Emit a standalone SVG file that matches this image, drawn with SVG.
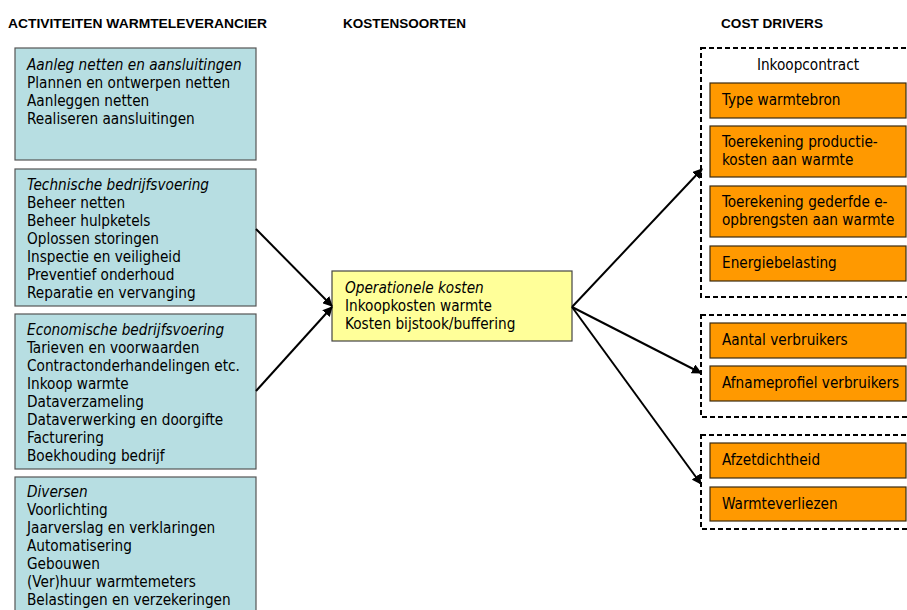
<svg xmlns="http://www.w3.org/2000/svg" width="907" height="610" viewBox="0 0 907 610">
<style>
.hdr{font-family:"Liberation Sans",Arial,sans-serif;font-weight:bold;font-size:13.5px;fill:#000}
.t{font-family:"DejaVu Sans Condensed","DejaVu Sans",sans-serif;font-size:15.2px;fill:#000}
.i{font-style:italic}
.act{fill:#B7DEE2;stroke:#555;stroke-width:1.2}
.ks{fill:#FFFF99;stroke:#444;stroke-width:1.2}
.cd{fill:#FF9900;stroke:#3a2a10;stroke-width:1.2}
.grp{fill:none;stroke:#000;stroke-width:2;stroke-dasharray:5,3}
.con{stroke:#000;stroke-width:2;fill:none;marker-end:url(#ah)}
</style>
<defs>
<marker id="ah" viewBox="0 0 10 10" refX="9" refY="5" markerWidth="5" markerHeight="5" orient="auto" markerUnits="strokeWidth">
<path d="M0,0 L10,5 L0,10 Z" fill="#000"/>
</marker>
</defs>
<rect width="907" height="610" fill="#fff"/>
<g id="headers">
<text class="hdr" x="8" y="28" textLength="259" lengthAdjust="spacingAndGlyphs">ACTIVITEITEN WARMTELEVERANCIER</text>
<text class="hdr" x="343" y="28" textLength="123" lengthAdjust="spacingAndGlyphs">KOSTENSOORTEN</text>
<text class="hdr" x="721" y="28" textLength="102" lengthAdjust="spacingAndGlyphs">COST DRIVERS</text>
</g>
<g id="act1">
<rect class="act" x="15" y="48" width="241" height="112"/>
<text class="t i" x="27" y="70">Aanleg netten en aansluitingen</text>
<text class="t" x="27" y="88">Plannen en ontwerpen netten</text>
<text class="t" x="27" y="106">Aanleggen netten</text>
<text class="t" x="27" y="124">Realiseren aansluitingen</text>
</g>
<g id="act2">
<rect class="act" x="15" y="169" width="241" height="137"/>
<text class="t i" x="27" y="190">Technische bedrijfsvoering</text>
<text class="t" x="27" y="208">Beheer netten</text>
<text class="t" x="27" y="226">Beheer hulpketels</text>
<text class="t" x="27" y="244">Oplossen storingen</text>
<text class="t" x="27" y="262">Inspectie en veiligheid</text>
<text class="t" x="27" y="280">Preventief onderhoud</text>
<text class="t" x="27" y="298">Reparatie en vervanging</text>
</g>
<g id="act3">
<rect class="act" x="15" y="314" width="241" height="155"/>
<text class="t i" x="27" y="335">Economische bedrijfsvoering</text>
<text class="t" x="27" y="353">Tarieven en voorwaarden</text>
<text class="t" x="27" y="371">Contractonderhandelingen etc.</text>
<text class="t" x="27" y="389">Inkoop warmte</text>
<text class="t" x="27" y="407">Dataverzameling</text>
<text class="t" x="27" y="425">Dataverwerking en doorgifte</text>
<text class="t" x="27" y="443">Facturering</text>
<text class="t" x="27" y="461">Boekhouding bedrijf</text>
</g>
<g id="act4">
<rect class="act" x="15" y="477" width="241" height="140"/>
<text class="t i" x="27" y="497">Diversen</text>
<text class="t" x="27" y="515">Voorlichting</text>
<text class="t" x="27" y="533">Jaarverslag en verklaringen</text>
<text class="t" x="27" y="551">Automatisering</text>
<text class="t" x="27" y="569">Gebouwen</text>
<text class="t" x="27" y="587">(Ver)huur warmtemeters</text>
<text class="t" x="27" y="605">Belastingen en verzekeringen</text>
</g>
<g id="kosten">
<rect class="ks" x="332" y="271" width="240" height="70"/>
<text class="t i" x="345" y="293">Operationele kosten</text>
<text class="t" x="345" y="311">Inkoopkosten warmte</text>
<text class="t" x="345" y="329">Kosten bijstook/buffering</text>
</g>
<g id="grp-inkoop">
<rect class="grp" x="701" y="48" width="220" height="249"/>
<text class="t" x="808" y="70" text-anchor="middle">Inkoopcontract</text>
</g>
<g id="cd1"><rect class="cd" x="710" y="83" width="196" height="35"/><text class="t" x="722" y="105">Type warmtebron</text></g>
<g id="cd2"><rect class="cd" x="710" y="126" width="196" height="51"/><text class="t" x="722" y="147">Toerekening productie-</text><text class="t" x="722" y="165">kosten aan warmte</text></g>
<g id="cd3"><rect class="cd" x="710" y="186" width="196" height="51"/><text class="t" x="722" y="207">Toerekening gederfde e-</text><text class="t" x="722" y="225">opbrengsten aan warmte</text></g>
<g id="cd4"><rect class="cd" x="710" y="246" width="196" height="35"/><text class="t" x="722" y="268">Energiebelasting</text></g>
<g id="grp-verbruik"><rect class="grp" x="701" y="315" width="220" height="102"/></g>
<g id="cd5"><rect class="cd" x="710" y="323" width="196" height="35"/><text class="t" x="722" y="345">Aantal verbruikers</text></g>
<g id="cd6"><rect class="cd" x="710" y="366" width="196" height="35"/><text class="t" x="722" y="388">Afnameprofiel verbruikers</text></g>
<g id="grp-net"><rect class="grp" x="701" y="435" width="220" height="94"/></g>
<g id="cd7"><rect class="cd" x="710" y="443" width="196" height="35"/><text class="t" x="722" y="465">Afzetdichtheid</text></g>
<g id="cd8"><rect class="cd" x="710" y="487" width="196" height="34"/><text class="t" x="722" y="509">Warmteverliezen</text></g>
<g id="connectors">
<line class="con" x1="256" y1="229" x2="332" y2="306"/>
<line class="con" x1="256" y1="391" x2="332" y2="307"/>
<line class="con" x1="572" y1="307" x2="702" y2="169"/>
<line class="con" x1="572" y1="307" x2="701" y2="373"/>
<line class="con" x1="572" y1="307" x2="701" y2="484"/>
</g>
</svg>
